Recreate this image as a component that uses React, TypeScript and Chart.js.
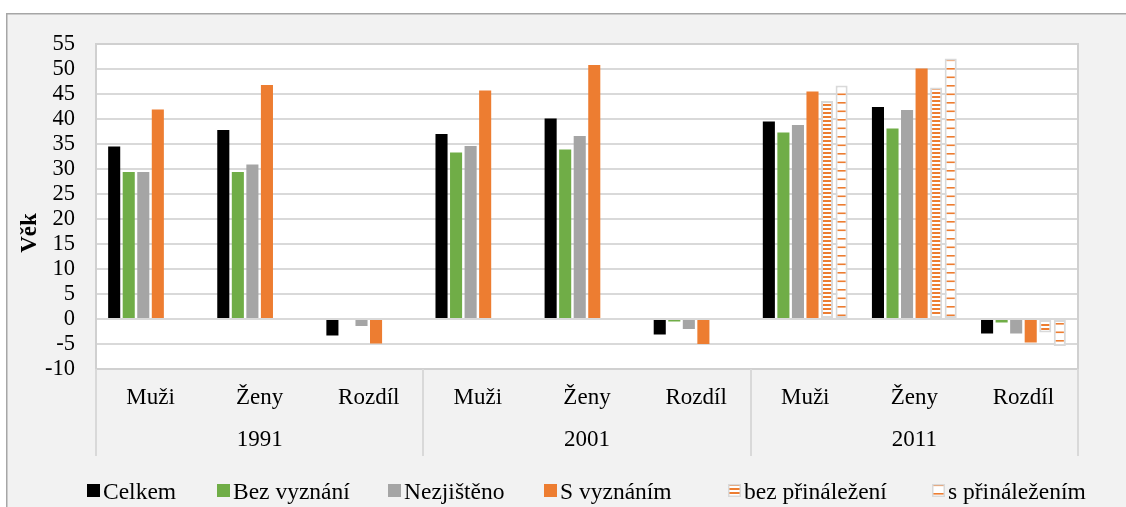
import React, { useEffect, useRef } from 'react';
import { Chart, registerables } from 'chart.js';

Chart.register(...registerables);

const categories = ['Muži', 'Ženy', 'Rozdíl', 'Muži', 'Ženy', 'Rozdíl', 'Muži', 'Ženy', 'Rozdíl'];
const years = ['1991', '2001', '2011'];
const seriesNames = ['Celkem', 'Bez vyznání', 'Nezjištěno', 'S vyznáním', 'bez přináležení', 's přináležením'];
const celkem = [34.5, 37.8, -3.3, 37.0, 40.1, -3.1, 39.5, 42.4, -2.9];
const bezVyznani = [29.4, 29.4, 0, 33.3, 33.9, -0.5, 37.3, 38.1, -0.7];
const nezjisteno = [29.4, 30.9, -1.4, 34.6, 36.6, -2.0, 38.8, 41.8, -2.9];
const sVyznanim = [41.9, 46.8, -4.9, 45.7, 50.8, -5.0, 45.5, 50.1, -4.7];
const bezPrinalezeni = [null, null, null, null, null, null, 43.6, 46.3, -2.7];
const sPrinalezenim = [null, null, null, null, null, null, 46.7, 52.1, -5.4];
const yMin = -10;
const yMax = 55;
const yStep = 5;
const yTitle = 'Věk';

// layout constants (legend item x positions)
const LEGEND_X = [87, 217, 388, 544, 728, 932];

const FONT = '"Liberation Serif", "Times New Roman", serif';
const ORANGE = '#ed7d31';

function makePattern(dense: boolean): CanvasPattern | string {
  const c = document.createElement('canvas');
  c.width = 4;
  c.height = dense ? 4 : 17;
  const g = c.getContext('2d');
  if (!g) return ORANGE;
  g.fillStyle = '#ffffff';
  g.fillRect(0, 0, c.width, c.height);
  g.fillStyle = ORANGE;
  if (dense) {
    g.fillRect(0, 0, 4, 2);
  } else {
    g.fillRect(0, 0, 4, 1.6);
    g.fillRect(0, 8.5, 4, 1.6);
  }
  return g.createPattern(c, 'repeat') || ORANGE;
}

const decorPlugin = {
  id: 'decor',
  beforeDraw(chart: any) {
    const { ctx, chartArea: a, width, height } = chart;
    ctx.save();
    ctx.fillStyle = '#ffffff';
    ctx.fillRect(0, 0, width, height);
    ctx.fillStyle = '#f2f2f2';
    ctx.fillRect(6, 13, width, height);
    ctx.strokeStyle = '#a6a6a6';
    ctx.lineWidth = 1.5;
    ctx.strokeRect(6.75, 13.75, width + 20, height + 20);
    ctx.fillStyle = '#ffffff';
    ctx.fillRect(a.left, a.top, a.right - a.left, a.bottom - a.top);
    ctx.restore();
  },
  afterDraw(chart: any) {
    const { ctx, chartArea: a } = chart;
    ctx.save();
    // plot border
    ctx.strokeStyle = '#d0d0d0';
    ctx.lineWidth = 2;
    ctx.strokeRect(a.left, a.top, a.right - a.left, a.bottom - a.top);
    // group separators
    const x2 = chart.scales.x2;
    const w = (x2.right - x2.left) / years.length;
    ctx.strokeStyle = '#d9d9d9';
    ctx.lineWidth = 2;
    for (let k = 0; k <= years.length; k++) {
      const x = Math.round(x2.left + k * w);
      ctx.beginPath();
      ctx.moveTo(x, a.bottom);
      ctx.lineTo(x, 456);
      ctx.stroke();
    }
    // y title
    ctx.fillStyle = '#000';
    ctx.font = `bold 23px ${FONT}`;
    ctx.translate(30.5, 233);
    ctx.rotate(-Math.PI / 2);
    ctx.textAlign = 'center';
    ctx.textBaseline = 'middle';
    ctx.fillText(yTitle, 0, 0);
    ctx.setTransform(1, 0, 0, 1, 0, 0);
    // legend
    ctx.font = `23.5px ${FONT}`;
    ctx.textAlign = 'left';
    ctx.textBaseline = 'alphabetic';
    const size = 13;
    const yBox = 484;
    chart.data.datasets.forEach((ds: any, i: number) => {
      const x = LEGEND_X[i];
      ctx.fillStyle = ds.backgroundColor;
      ctx.fillRect(x, yBox, size, size);
      if (ds.borderWidth) {
        ctx.strokeStyle = ds.borderColor;
        ctx.lineWidth = 1.5;
        ctx.strokeRect(x + 0.75, yBox + 0.75, size - 1.5, size - 1.5);
      }
      ctx.fillStyle = '#000';
      ctx.fillText(ds.label, x + 16, 499);
    });
    ctx.restore();
  },
};

export default function App() {
  const ref = useRef<HTMLCanvasElement>(null);
  useEffect(() => {
    if (!ref.current) return;
    Chart.defaults.font.family = FONT;
    const dense = makePattern(true);
    const sparse = makePattern(false);
    const values = [celkem, bezVyznani, nezjisteno, sVyznanim, bezPrinalezeni, sPrinalezenim];
    const colors: any[] = ['#000000', '#70ad47', '#a5a5a5', ORANGE, dense, sparse];
    const datasets = values.map((v, i) => ({
      label: seriesNames[i],
      data: v,
      xAxisID: 'x',
      yAxisID: 'y',
      backgroundColor: colors[i],
      borderColor: i >= 4 ? '#d9d9d9' : colors[i],
      borderWidth: i >= 4 ? 2 : 0,
      borderSkipped: i >= 4 ? false : 'start',
      categoryPercentage: 0.8,
      barPercentage: 0.83,
    }));
    const tickFont = { size: 23, family: FONT };
    const chart = new Chart(ref.current, {
      type: 'bar',
      data: { labels: categories, datasets: datasets as any },
      options: {
        responsive: false,
        animation: false,
        devicePixelRatio: 1,
        layout: { padding: { top: 44, right: 48, bottom: 47, left: 0 } },
        plugins: { legend: { display: false }, tooltip: { enabled: false } },
        scales: {
          x: {
            type: 'category',
            position: 'bottom',
            weight: 0,
            offset: true,
            grid: { display: false, drawTicks: false },
            border: { display: false },
            ticks: { color: '#000', font: tickFont, padding: 15, autoSkip: false, maxRotation: 0 },
            afterFit(s: any) { s.height = 45; },
          },
          x2: {
            type: 'category',
            position: 'bottom',
            weight: 1,
            offset: true,
            labels: years,
            grid: { display: false, drawTicks: false },
            border: { display: false },
            ticks: { color: '#000', font: tickFont, padding: 12, autoSkip: false, maxRotation: 0 },
            afterFit(s: any) { s.height = 46; },
          },
          y: {
            type: 'linear',
            min: yMin,
            max: yMax,
            grid: { color: '#d9d9d9', lineWidth: 2, drawTicks: false },
            border: { display: false },
            ticks: {
              stepSize: yStep,
              autoSkip: false,
              color: '#000',
              font: { size: 22.5, family: FONT, lineHeight: 1 },
              padding: 21,
            },
            afterFit(s: any) { s.width = 96; },
          },
        } as any,
      },
      plugins: [decorPlugin],
    });
    return () => chart.destroy();
  }, []);
  return (
    <div style={{ position: 'absolute', left: 0, top: 0, width: 1126, height: 507, overflow: 'hidden' }}>
      <canvas ref={ref} width={1126} height={507} style={{ display: 'block' }} />
    </div>
  );
}
